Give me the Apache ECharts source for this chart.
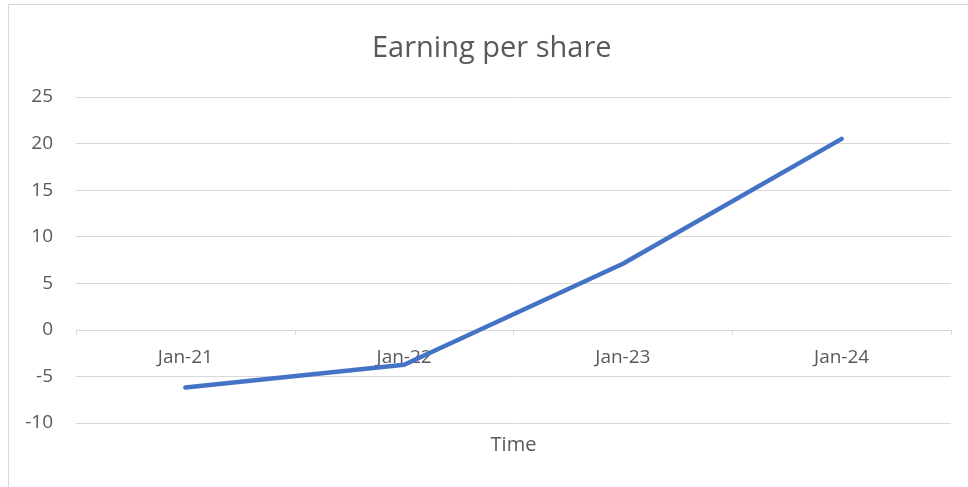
<!DOCTYPE html>
<html>
<head>
<meta charset="utf-8">
<script src="https://cdn.jsdelivr.net/npm/echarts@6/dist/echarts.min.js"></script>
<style>
  html, body { margin: 0; padding: 0; background: #fff; }
  #chart { width: 968px; height: 487px; }
</style>
</head>
<body>
<div id="chart"></div>
<script>
// data
const categories = ['Jan-21', 'Jan-22', 'Jan-23', 'Jan-24'];
const epsValues = [-6.2, -3.75, 7.1, 20.5];
const yTicks = { min: -10, max: 25, step: 5 };

const chart = echarts.init(document.getElementById('chart'));
const font = "'Open Sans', 'Liberation Sans', sans-serif";
const gridBottom = 64;

const option = {
  animation: false,
  backgroundColor: '#fff',
  textStyle: { fontFamily: font },
  title: {
    text: 'Earning per share',
    left: 367,
    top: 29,
    textStyle: { fontSize: 29, fontWeight: 'normal', color: '#595959', fontFamily: font }
  },
  graphic: [{
    type: 'rect',
    shape: { x: 8.5, y: 4.5, width: 1000, height: 600 },
    style: { fill: 'none', stroke: '#d9d9d9', lineWidth: 1 },
    silent: true, z: -1
  }],
  grid: { left: 76, right: 17, top: 97, bottom: gridBottom, containLabel: false, outerBoundsMode: 'none' },
  xAxis: {
    type: 'category',
    data: categories,
    boundaryGap: true,
    position: 'bottom',
    axisLine: { onZero: false, lineStyle: { color: '#d9d9d9', width: 1 } },
    axisTick: { show: true, length: 5, lineStyle: { color: '#d9d9d9' } },
    axisLabel: { color: '#595959', fontSize: 19, margin: 18, fontFamily: font },
    name: 'Time',
    nameLocation: 'middle',
    nameGap: 105,
    nameTextStyle: { color: '#595959', fontSize: 20, fontFamily: font }
  },
  yAxis: {
    type: 'value',
    min: yTicks.min,
    max: yTicks.max,
    interval: yTicks.step,
    axisLine: { show: false },
    axisTick: { show: false },
    axisLabel: { color: '#595959', fontSize: 19, margin: 23, fontFamily: font },
    splitLine: { lineStyle: { color: '#d9d9d9', width: 1 } }
  },
  series: [{
    name: 'EPS',
    type: 'line',
    data: epsValues,
    symbol: 'none',
    lineStyle: { color: '#4472c4', width: 4.5, cap: 'round', join: 'round' }
  }]
};

chart.setOption(option);
// move the category axis (line, ticks, labels) up to the zero line
const zeroY = chart.convertToPixel({ yAxisIndex: 0 }, 0);
const bottomY = 487 - gridBottom;
chart.setOption({ xAxis: { offset: -(bottomY - zeroY) } });
</script>
</body>
</html>
